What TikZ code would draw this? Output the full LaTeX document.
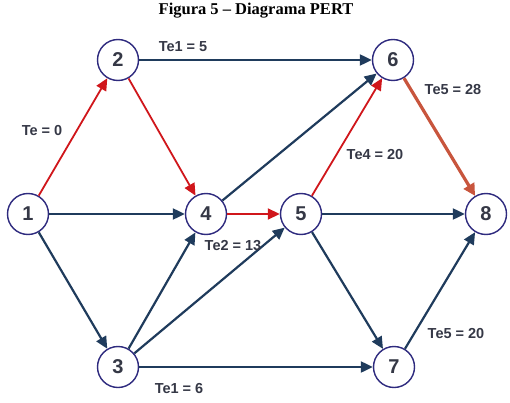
\documentclass[tikz,border=0pt]{standalone}
\usepackage{fontspec}
\setmainfont{Liberation Serif}
\newfontfamily\arialfont{Liberation Sans}
\usetikzlibrary{arrows.meta}
\definecolor{nodeline}{HTML}{2E2A7E}
\definecolor{navy}{HTML}{1F3B5C}
\definecolor{crit}{HTML}{D0161B}
\definecolor{critb}{HTML}{C8553D}
\definecolor{txt}{HTML}{353846}
\begin{document}
\begin{tikzpicture}[x=1pt,y=-1pt,
  ev/.style={circle,draw=nodeline,line width=1.4pt,fill=white,minimum size=41pt,inner sep=0pt,
    font=\arialfont\bfseries\fontsize{20}{20}\selectfont,text=txt},
  act/.style={draw=navy,line width=2.2pt,-{Triangle[length=12pt,width=11pt]}},
  cr/.style={draw=crit,line width=1.8pt,-{Triangle[length=12pt,width=11pt]}},
  crb/.style={draw=critb,line width=3.2pt,-{Triangle[length=12pt,width=12pt]}},
  lbl/.style={font=\arialfont\bfseries\fontsize{14.5}{15}\selectfont,text=txt,inner sep=0pt}]
\useasboundingbox (0,0) rectangle (510,403);
\node[font=\bfseries\fontsize{16.5}{18}\selectfont,inner sep=0pt] (title) at (256,11) {Figura 5 -- Diagrama PERT};
\node[ev] (n1) at (28,214) {1};
\node[ev] (n2) at (118,60) {2};
\node[ev] (n3) at (118,367) {3};
\node[ev] (n4) at (206,214) {4};
\node[ev] (n5) at (301,214) {5};
\node[ev] (n6) at (393,60) {6};
\node[ev] (n7) at (394,367) {7};
\node[ev] (n8) at (486,214) {8};
\draw[cr] (n1) -- (n2);
\draw[cr] (n2) -- (n4);
\draw[cr] (n4) -- (n5);
\draw[cr] (n5) -- (n6);
\draw[crb] (n6) -- (n8);
\draw[act] (n2) -- (n6);
\draw[act] (n1) -- (n4);
\draw[act] (n1) -- (n3);
\draw[act] (n3) -- (n4);
\draw[act] (n3) -- (n5);
\draw[act] (n3) -- (n7);
\draw[act] (n4) -- (n6);
\draw[act] (n5) -- (n8);
\draw[act] (n5) -- (n7);
\draw[act] (n7) -- (n8);
\node[lbl] (l1) at (183,47) {Te1 = 5};
\node[lbl] (l2) at (42,131) {Te = 0};
\node[lbl] (l3) at (453,90) {Te5 = 28};
\node[lbl] (l4) at (375,155) {Te4 = 20};
\node[lbl] (l5) at (233,246) {Te2 = 13};
\node[lbl] (l6) at (179,389) {Te1 = 6};
\node[lbl] (l7) at (456,334) {Te5 = 20};
\end{tikzpicture}
\end{document}
